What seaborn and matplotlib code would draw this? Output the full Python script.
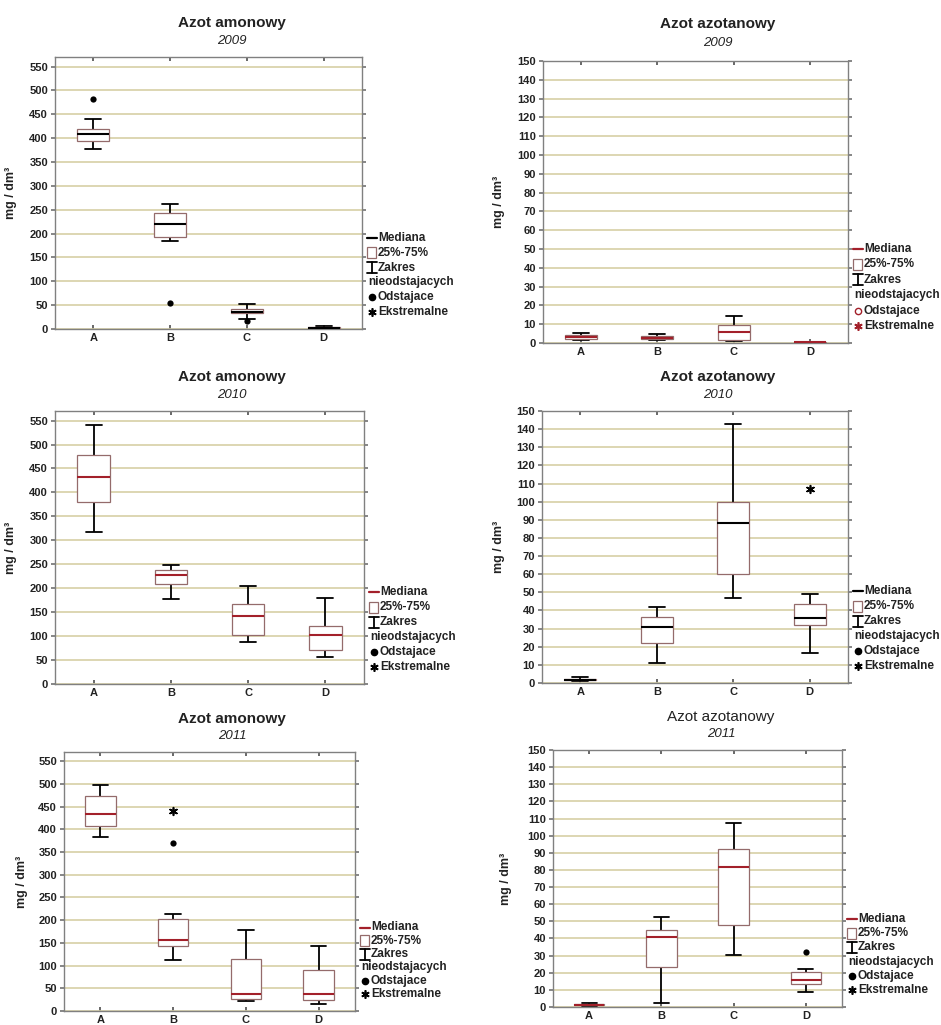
import matplotlib
matplotlib.use("Agg")
import matplotlib.pyplot as plt
import matplotlib.transforms as mtransforms
from matplotlib.lines import Line2D
from matplotlib.patches import Rectangle
import pandas as pd
import seaborn as sns

W, H = 941, 1025

stations = ["A", "B", "C", "D"]

# per station: whisker low, q1, median, q3, whisker high
amon_2009 = [[378, 393, 409, 420, 441], [184, 192, 219, 244, 262],
             [22, 33, 36, 41, 52], [0.5, 1.5, 2.5, 3.5, 6]]
amon_2009_out_st = ["A", "B", "C"]
amon_2009_out = [483, 55, 17]

azot_2009 = [[1.6, 2.3, 3.2, 4.1, 5.1], [1.7, 2.0, 2.8, 3.7, 5.0],
             [0.9, 1.4, 5.8, 9.6, 14.3], [0.05, 0.1, 0.35, 0.5, 0.7]]

amon_2010 = [[318, 381, 433, 478, 541], [178, 209, 227, 238, 248],
             [87, 102, 143, 168, 205], [57, 70, 102, 121, 179]]

azot_2010 = [[1.0, 1.4, 1.8, 2.1, 3.2], [10.9, 22.3, 30.7, 36.4, 42.1],
             [46.6, 60.0, 88.4, 99.6, 142.8], [16.4, 31.8, 35.7, 43.8, 49.1]]
azot_2010_ext_st = ["D"]
azot_2010_ext = [106.8]

amon_2011 = [[382, 408, 433, 474, 498], [113, 142, 157, 202, 213],
             [21, 27, 37, 114, 178], [16, 25, 37, 91, 142]]
amon_2011_out_st = ["B"]
amon_2011_out = [370]
amon_2011_ext_st = ["B"]
amon_2011_ext = [440]

azot_2011 = [[0.6, 1.0, 1.4, 1.7, 2.3], [2.5, 23.3, 41.0, 44.9, 52.3],
             [30.1, 47.8, 81.6, 92.5, 107.3], [8.5, 13.4, 15.7, 20.2, 22.3]]
azot_2011_out_st = ["D"]
azot_2011_out = [31.9]

amon_ticks = list(range(0, 551, 50))
azot_ticks = list(range(0, 151, 10))

BOX_EDGE = "#946b6b"
RED = "#a3202a"
GRID = "#d7d0a6"
SPINE = "#808080"
ASTER = (6, 2, 0)

sns.set_theme(style="white")
plt.rcParams["font.family"] = ["Liberation Sans", "DejaVu Sans"]

fig = plt.figure(figsize=(W / 100, H / 100), dpi=100)
fig.patch.set_facecolor("white")
# pixel coordinates (origin top-left) for titles and keys
px = mtransforms.Affine2D().scale(1 / W, -1 / H).translate(0, 1) + fig.transFigure


def to_frame(boxes):
    rows = []
    for st, vals in zip(stations, boxes):
        for v in vals:
            rows.append((st, v))
    return pd.DataFrame(rows, columns=["stacja", "wartosc"])


def draw_key(right, bottom, med_color, mark_color, open_dot, step):
    hx = right + 10
    tx = right + 16
    ys = [bottom - 17 - step * k for k in (5, 4, 3, 2, 1, 0)]
    kw = dict(transform=px, fontsize=8.5, fontweight="bold", va="center",
              ha="left", color="#222222")
    fig.add_artist(Line2D([hx - 5, hx + 5], [ys[0], ys[0]], color=med_color,
                          lw=1.6, transform=px))
    fig.text(tx, ys[0], "Mediana", **kw)
    fig.add_artist(Rectangle((hx - 5, ys[1] - 5.5), 9, 11, facecolor="white",
                             edgecolor=BOX_EDGE, lw=0.9, transform=px))
    fig.text(tx, ys[1], "25%-75%", **kw)
    fig.add_artist(Line2D([hx, hx], [ys[2] - 5.5, ys[2] + 5.5], color="black",
                          lw=1.3, transform=px))
    for yy in (ys[2] - 5.5, ys[2] + 5.5):
        fig.add_artist(Line2D([hx - 5, hx + 5], [yy, yy], color="black",
                              lw=1.3, transform=px))
    fig.text(tx, ys[2], "Zakres", **kw)
    fig.text(right + 6, ys[3], "nieodstajacych", **kw)
    if open_dot:
        fig.add_artist(Line2D([hx], [ys[4]], marker="o", ms=4.5, mfc="white",
                              mec=mark_color, mew=1.0, transform=px))
    else:
        fig.add_artist(Line2D([hx], [ys[4]], marker="o", ms=4.5, mfc=mark_color,
                              mec=mark_color, transform=px))
    fig.text(tx, ys[4], "Odstajace", **kw)
    fig.add_artist(Line2D([hx], [ys[5]], marker=ASTER, ms=6, mec=mark_color,
                          mew=1.2, transform=px))
    fig.text(tx, ys[5], "Ekstremalne", **kw)


panels = [
    dict(boxes=amon_2009, out=(amon_2009_out_st, amon_2009_out), ext=None,
         title="Azot amonowy", year="2009", bold=True, med="black",
         box=(55, 362, 57, 329), ymax=570, ticks=amon_ticks,
         title_xy=(232, 23, 41), ylab_x=17, key=("black", "black", False, 14.8)),
    dict(boxes=azot_2009, out=None, ext=None,
         title="Azot azotanowy", year="2009", bold=True, med=RED,
         box=(543, 848, 61, 343), ymax=150, ticks=azot_ticks,
         title_xy=(718, 24, 43), ylab_x=505, key=(RED, RED, True, 15.4)),
    dict(boxes=amon_2010, out=None, ext=None,
         title="Azot amonowy", year="2010", bold=True, med=RED,
         box=(55, 364, 411, 684), ymax=570, ticks=amon_ticks,
         title_xy=(232, 377, 395), ylab_x=17, key=(RED, "black", False, 15.0)),
    dict(boxes=azot_2010, out=None, ext=(azot_2010_ext_st, azot_2010_ext),
         title="Azot azotanowy", year="2010", bold=True, med="black",
         box=(542, 848, 411, 683), ymax=150, ticks=azot_ticks,
         title_xy=(718, 377, 395), ylab_x=505, key=("black", "black", False, 15.0)),
    dict(boxes=amon_2011, out=(amon_2011_out_st, amon_2011_out),
         ext=(amon_2011_ext_st, amon_2011_ext),
         title="Azot amonowy", year="2011", bold=True, med=RED,
         box=(64, 355, 752, 1011), ymax=570, ticks=amon_ticks,
         title_xy=(232, 719, 736), ylab_x=28, key=(RED, "black", False, 13.3)),
    dict(boxes=azot_2011, out=(azot_2011_out_st, azot_2011_out), ext=None,
         title="Azot azotanowy", year="2011", bold=False, med=RED,
         box=(553, 842, 750, 1007), ymax=150, ticks=azot_ticks,
         title_xy=(721, 717, 734), ylab_x=512, key=(RED, "black", False, 14.2)),
]

for p in panels:
    left, right, top, bottom = p["box"]
    ax = fig.add_axes([left / W, 1 - bottom / H, (right - left) / W,
                       (bottom - top) / H])
    df = to_frame(p["boxes"])
    sns.boxplot(data=df, x="stacja", y="wartosc", order=stations,
                whis=(0, 100), showfliers=False, width=0.42, color="white",
                linecolor="black", linewidth=1.2,
                boxprops=dict(edgecolor=BOX_EDGE, linewidth=0.9, zorder=3),
                medianprops=dict(color=p["med"], linewidth=1.5, zorder=4),
                whiskerprops=dict(color="black", linewidth=1.3),
                capprops=dict(color="black", linewidth=1.3),
                ax=ax)
    if p["out"] is not None:
        sns.stripplot(x=p["out"][0], y=p["out"][1], order=stations,
                      jitter=False, color="black", size=4.5, ax=ax, zorder=5)
    if p["ext"] is not None:
        sns.stripplot(x=p["ext"][0], y=p["ext"][1], order=stations,
                      jitter=False, marker=ASTER, color="black",
                      edgecolor="black", linewidth=1.2, size=5.5, ax=ax, zorder=5)

    ax.set_xlim(-0.5, 3.5)
    ax.set_ylim(0, p["ymax"])
    ax.set_yticks(p["ticks"])
    ax.yaxis.grid(True, color=GRID, linewidth=1.2, zorder=0)
    ax.xaxis.grid(False)
    ax.set_axisbelow(True)
    for s in ax.spines.values():
        s.set_color(SPINE)
        s.set_linewidth(1.0)
    ax.tick_params(axis="x", direction="in", top=True, bottom=True, length=3,
                   color="#555555", labelsize=8, pad=3)
    ax.tick_params(axis="y", direction="out", left=True, right=True, length=3,
                   color="#777777", labelsize=8, pad=2)
    for lab in ax.get_xticklabels() + ax.get_yticklabels():
        lab.set_fontweight("bold")
        lab.set_color("#222222")
    ax.set_xlabel("")
    ax.set_ylabel("mg / dm³", fontsize=9, fontweight="bold", color="#222222")
    ax.yaxis.set_label_coords((p["ylab_x"] - left) / (right - left), 0.5)

    tx, ty, sy = p["title_xy"]
    fig.text(tx, ty, p["title"], transform=px, ha="center", va="center",
             fontsize=11, fontweight="bold" if p["bold"] else "normal",
             color="#222222")
    fig.text(tx, sy, p["year"], transform=px, ha="center", va="center",
             fontsize=9.5, style="italic", color="#222222")

    mc, oc, open_dot, step = p["key"]
    draw_key(right, bottom, mc, oc, open_dot, step)

fig.savefig("out.png", dpi=100)
